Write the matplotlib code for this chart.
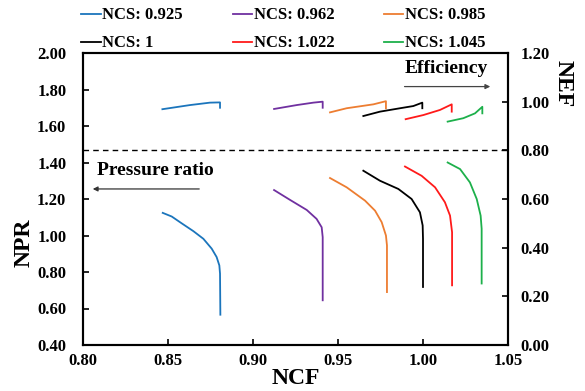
import matplotlib
matplotlib.use("Agg")
import matplotlib.pyplot as plt

plt.rcParams['font.family'] = ['Liberation Serif', 'DejaVu Serif']
plt.rcParams['font.weight'] = 'bold'

labels = ["NCS: 0.925", "NCS: 0.962", "NCS: 0.985", "NCS: 1", "NCS: 1.022", "NCS: 1.045"]
colors = ["#1B75BC", "#7030A0", "#ED7D31", "#000000", "#FF1A1A", "#1DB04B"]

# Pressure ratio curves (NCF, NPR)
pr_ncf = [
    [0.8469, 0.8522, 0.8580, 0.8649, 0.8708, 0.8757, 0.8786, 0.8802, 0.8806, 0.8808],
    [0.9124, 0.9218, 0.9316, 0.9374, 0.9404, 0.9410, 0.9410],
    [0.9453, 0.9551, 0.9659, 0.9718, 0.9757, 0.9782, 0.9788, 0.9788],
    [0.9649, 0.9747, 0.9855, 0.9933, 0.9982, 0.9998, 1.0000, 1.0000],
    [0.9894, 0.9992, 1.0071, 1.0129, 1.0159, 1.0171, 1.0171],
    [1.0145, 1.0218, 1.0276, 1.0316, 1.0339, 1.0345, 1.0345],
]
pr_npr = [
    [1.124, 1.104, 1.067, 1.024, 0.982, 0.928, 0.882, 0.836, 0.791, 0.566],
    [1.249, 1.195, 1.140, 1.091, 1.045, 0.991, 0.645],
    [1.315, 1.264, 1.191, 1.136, 1.073, 1.000, 0.946, 0.690],
    [1.355, 1.300, 1.255, 1.200, 1.127, 1.055, 0.982, 0.718],
    [1.378, 1.327, 1.264, 1.182, 1.109, 1.018, 0.727],
    [1.400, 1.364, 1.291, 1.200, 1.109, 1.037, 0.737],
]

# Efficiency curves (NCF, NEF)
ef_ncf = [
    [0.8467, 0.8629, 0.8747, 0.8806, 0.8806],
    [0.9124, 0.9257, 0.9355, 0.9410, 0.9410],
    [0.9453, 0.9551, 0.9708, 0.9782, 0.9782],
    [0.9649, 0.9747, 0.9865, 0.9943, 0.9996, 0.9996],
    [0.9898, 1.0002, 1.0100, 1.0169, 1.0169],
    [1.0145, 1.0237, 1.0306, 1.0349, 1.0349],
]
ef_nef = [
    [0.969, 0.986, 0.996, 0.997, 0.975],
    [0.970, 0.986, 0.996, 1.000, 0.975],
    [0.956, 0.973, 0.989, 1.002, 0.973],
    [0.941, 0.959, 0.973, 0.982, 0.996, 0.973],
    [0.928, 0.945, 0.966, 0.989, 0.959],
    [0.918, 0.932, 0.952, 0.979, 0.952],
]

xticks = [0.80, 0.85, 0.90, 0.95, 1.00, 1.05]
yticks_left = [0.40, 0.60, 0.80, 1.00, 1.20, 1.40, 1.60, 1.80, 2.00]
yticks_right = [0.00, 0.20, 0.40, 0.60, 0.80, 1.00, 1.20]

fig = plt.figure(figsize=(5.85, 3.91), dpi=100)
ax = fig.add_axes([83/585, 46/391, 425/585, 292/391])
ax2 = ax.twinx()

handles = []
for i in range(6):
    h, = ax.plot(pr_ncf[i], pr_npr[i], color=colors[i], lw=1.3, label=labels[i])
    handles.append(h)
    ax2.plot(ef_ncf[i], ef_nef[i], color=colors[i], lw=1.3)

ax2.axhline(0.80, color='black', lw=1.0, ls=(0, (4, 3)))

ax.set_xlim(0.80, 1.05)
ax.set_ylim(0.40, 2.00)
ax2.set_ylim(0.00, 1.20)
ax.set_xticks(xticks)
ax.set_xticklabels([f"{v:.2f}" for v in xticks])
ax.set_yticks(yticks_left)
ax.set_yticklabels([f"{v:.2f}" for v in yticks_left])
ax2.set_yticks(yticks_right)
ax2.set_yticklabels([f"{v:.2f}" for v in yticks_right])

for a in (ax, ax2):
    for s in a.spines.values():
        s.set_linewidth(1.5)
ax.tick_params(axis='x', direction='in', length=4, width=1.2, labelsize=12, pad=6)
ax.tick_params(axis='y', direction='in', length=4, width=1.2, labelsize=12, pad=12)
ax2.tick_params(axis='y', direction='in', length=4, width=1.2, labelsize=12, pad=9)

ax.set_xlabel("NCF", fontsize=17, fontweight='bold', va='top')
ax.xaxis.set_label_coords(0.5, -0.08)
ax.set_ylabel("NPR", fontsize=17, fontweight='bold')
ax.yaxis.set_label_coords(-0.115, 0.35)
ax2.set_ylabel("NEF", fontsize=17, fontweight='bold', rotation=270, va='center')
ax2.yaxis.set_label_coords(1.13, 0.895)

ax.annotate("", xy=(0.8041, 1.255), xytext=(0.870, 1.255),
            arrowprops=dict(arrowstyle='-|>', color='#333333', lw=0.9, mutation_scale=7))
ax.text(0.8085, 1.355, "Pressure ratio", fontsize=14, fontweight='bold', va='center', ha='left')
ax2.annotate("", xy=(1.0412, 1.062), xytext=(0.9875, 1.062),
             arrowprops=dict(arrowstyle='-|>', color='#444444', lw=0.9, mutation_scale=7))
ax2.text(1.0135, 1.135, "Efficiency", fontsize=14, fontweight='bold', va='center', ha='center')

order = [0, 3, 1, 4, 2, 5]
fig.legend([handles[k] for k in order], [labels[k] for k in order],
           ncol=3, loc='upper left', bbox_to_anchor=(78/585, 1 - 4/391),
           frameon=False, fontsize=12, handlelength=1.15, handletextpad=0.1,
           columnspacing=3.0, labelspacing=0.72, borderaxespad=0, borderpad=0.2)

fig.savefig("out.png", dpi=100)
